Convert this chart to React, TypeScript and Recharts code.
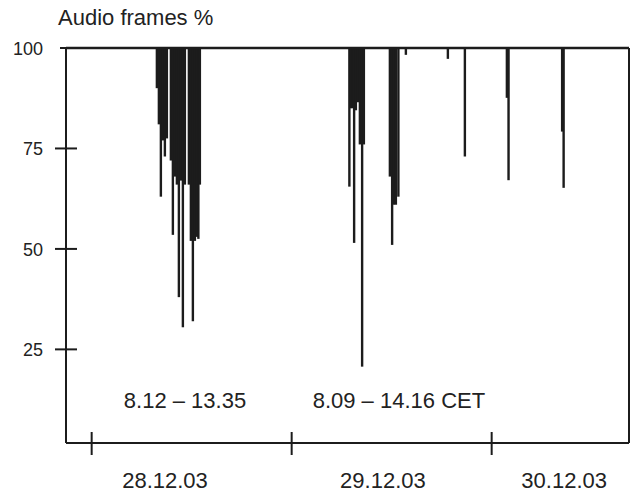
import React from 'react';
import { BarChart, Bar, XAxis, YAxis, ReferenceLine, ReferenceDot } from 'recharts';

const FONT = '"Liberation Sans", Arial, sans-serif';
const INK = '#1c1c1c';

// time axis: hours counted from 28.12.03 00:00
const dayTicks = [0, 24, 48];
const dateLabels = ['28.12.03', '29.12.03', '30.12.03'];
const dateLabelHours = [8.8, 34.95, 56.7];
const valueTicks = [25, 50, 75, 100];

// lowest audio frame % reached in each sample (bars hang down from 100)
const day28Hours = [7.84, 8.08, 8.32, 8.56, 8.8, 9.04, 9.52, 9.76, 10.0, 10.24, 10.48, 10.72, 10.96, 11.2, 11.68, 11.92, 12.16, 12.4, 12.64, 12.82, 13.0];
const day28Values = [90, 81, 63, 77, 73, 77.5, 72, 53.5, 68, 66, 38, 67, 30.5, 66, 66, 52, 32, 52, 53, 52.5, 66];
const day29Hours = [30.94, 31.12, 31.36, 31.51, 31.72, 31.96, 32.2, 32.47, 32.68, 35.8, 36.07, 36.28, 36.52, 36.82, 37.72, 42.76, 44.8];
const day29Values = [65.5, 85, 85, 51.5, 84.5, 86.5, 76, 20.7, 76, 68, 51, 61, 61, 63, 98.3, 97.3, 73];
const day30Hours = [49.84, 50.04, 56.47, 56.65];
const day30Values = [87.6, 67.1, 79.2, 65.2];

const xDomain: [number, number] = [-3.08, 64.48];
const yDomain: [number, number] = [1.7, 100];

const data = [
  ...day28Hours.map((h, i) => ({ h, span: [day28Values[i], 100] })),
  ...day29Hours.map((h, i) => ({ h, span: [day29Values[i], 100] })),
  ...day30Hours.map((h, i) => ({ h, span: [day30Values[i], 100] })),
];

const xTicks = [...dayTicks, ...dateLabelHours].sort((a, b) => a - b);

// thin fixed-width drop line centred on the sample time
const Drop = (props: any) => {
  const { x, y, width, height } = props;
  if (x == null || y == null) return null;
  const top = Math.min(y, y + height);
  return <rect x={x + width / 2 - 1.2} y={top} width={2.4} height={Math.abs(height)} fill={INK} />;
};

const renderDateTick = (p: any) => {
  const v = p.payload.value;
  if (dayTicks.includes(v)) {
    return <line x1={p.x} x2={p.x} y1={p.y - 11} y2={p.y + 12} stroke={INK} strokeWidth={2} />;
  }
  const i = dateLabelHours.indexOf(v);
  return (
    <text x={p.x} y={p.y + 45} textAnchor="middle" fontSize={22} fontFamily={FONT} fill="#222">
      {dateLabels[i]}
    </text>
  );
};

const renderValueTick = (p: any) => {
  const v = p.payload.value;
  return (
    <g>
      <line x1={p.x - (v === 100 ? 6 : 11)} x2={p.x + (v === 100 ? 0 : 11)} y1={p.y} y2={p.y} stroke={INK} strokeWidth={2} />
      <text x={p.x - 23} y={p.y + 7} textAnchor="end" fontSize={18} fontFamily={FONT} fill="#222">
        {v}
      </text>
    </g>
  );
};

export default function App() {
  return (
    <div style={{ position: 'absolute', left: 0, top: 0, width: 631, height: 495, background: '#fff' }}>
      <div
        style={{
          position: 'absolute',
          left: 58,
          top: 7,
          fontFamily: FONT,
          fontSize: 22,
          lineHeight: '22px',
          color: '#222',
          whiteSpace: 'nowrap',
        }}
      >
        Audio frames %
      </div>
      <BarChart width={631} height={495} data={data} margin={{ top: 48, right: 2, bottom: 0, left: 0 }} barCategoryGap={0}>
        <XAxis
          dataKey="h"
          type="number"
          domain={xDomain}
          allowDataOverflow
          ticks={xTicks}
          interval={0}
          tickSize={0}
          tickMargin={0}
          tickLine={false}
          tick={renderDateTick}
          axisLine={{ stroke: INK, strokeWidth: 2 }}
          height={52}
        />
        <YAxis
          type="number"
          domain={yDomain}
          allowDataOverflow
          ticks={valueTicks}
          interval={0}
          tickSize={0}
          tickMargin={0}
          tickLine={false}
          tick={renderValueTick}
          axisLine={{ stroke: INK, strokeWidth: 2 }}
          width={66}
        />
        <ReferenceLine y={100} stroke={INK} strokeWidth={2.5} />
        <ReferenceLine x={xDomain[1]} stroke={INK} strokeWidth={2} />
        <Bar dataKey="span" shape={<Drop />} isAnimationActive={false} />
        <ReferenceDot
          x={11.2}
          y={12.4}
          r={0}
          fill="none"
          stroke="none"
          label={{ value: '8.12 – 13.35', position: 'center', fontSize: 22, fontFamily: FONT, fill: '#222' }}
        />
        <ReferenceDot
          x={36.87}
          y={12.4}
          r={0}
          fill="none"
          stroke="none"
          label={{ value: '8.09 – 14.16 CET', position: 'center', fontSize: 22, fontFamily: FONT, fill: '#222' }}
        />
      </BarChart>
    </div>
  );
}
